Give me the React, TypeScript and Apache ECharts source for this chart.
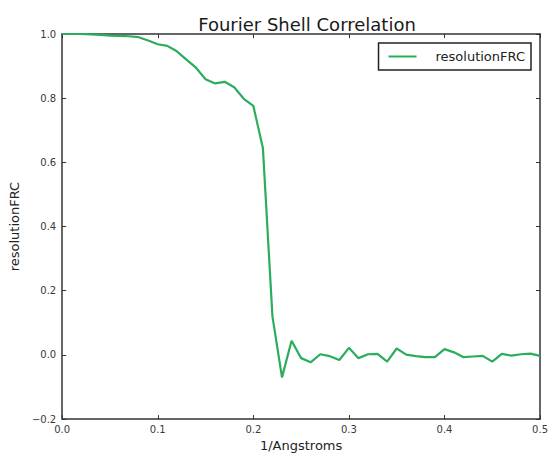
import React, { useEffect, useRef } from "react";
import * as echarts from "echarts";

const frequencies = [
  0.0, 0.01, 0.02, 0.03, 0.04, 0.05, 0.06, 0.07, 0.08, 0.09,
  0.1, 0.11, 0.12, 0.13, 0.14, 0.15, 0.16, 0.17, 0.18, 0.19,
  0.2, 0.21, 0.22, 0.23, 0.24, 0.25, 0.26, 0.27, 0.28, 0.29,
  0.3, 0.31, 0.32, 0.33, 0.34, 0.35, 0.36, 0.37, 0.38, 0.39,
  0.4, 0.41, 0.42, 0.43, 0.44, 0.45, 0.46, 0.47, 0.48, 0.49, 0.5,
];

const resolutionFRC = [
  1.0, 1.0, 1.0, 0.999, 0.997, 0.995, 0.994, 0.993, 0.99, 0.98,
  0.968, 0.963, 0.946, 0.92, 0.895, 0.859, 0.846, 0.851, 0.834, 0.798,
  0.776, 0.645, 0.12, -0.07, 0.044, -0.01, -0.023, 0.002, -0.004, -0.016,
  0.022, -0.01, 0.002, 0.003, -0.021, 0.02, 0.001, -0.004, -0.007, -0.007,
  0.018, 0.008, -0.007, -0.005, -0.003, -0.021, 0.003, -0.002, 0.002, 0.004, -0.003,
];

const xTicks = { min: 0, max: 0.5, interval: 0.1 };
const yTicks = { min: -0.2, max: 1.0, interval: 0.2 };

const FONT = "DejaVu Sans";
const AXIS_COLOR = "#333333";
const LINE_COLOR = "#2aad5c";

function fmt(v: number): string {
  const s = Math.abs(v).toFixed(1);
  return v < -1e-9 ? "\u2212" + s : s;
}

export default function App() {
  const ref = useRef<HTMLDivElement>(null);

  useEffect(() => {
    document.body.style.margin = "0";
    if (!ref.current) return;
    const chart = echarts.init(ref.current, undefined, { renderer: "svg" });

    const axisLine = { show: true, onZero: false, lineStyle: { color: AXIS_COLOR, width: 1.5 } };
    const axisTick = { show: true, inside: true, length: 4, lineStyle: { color: AXIS_COLOR, width: 1 } };

    chart.setOption({
      animation: false,
      backgroundColor: "#ffffff",
      title: {
        text: "Fourier Shell Correlation",
        left: 302,
        textAlign: "center",
        top: 10,
        textStyle: { fontFamily: FONT, fontSize: 18, fontWeight: "normal", color: "#1a1a1a" },
      },
      legend: {
        show: true,
        right: 20,
        top: 43,
        orient: "vertical",
        borderColor: "#222222",
        borderWidth: 1.5,
        borderRadius: 0,
        padding: [7, 6, 7, 10],
        itemWidth: 28,
        itemHeight: 14,
        textStyle: { fontFamily: FONT, fontSize: 13, color: "#222222", padding: [0, 0, 0, 14] },
        data: [{ name: "resolutionFRC", icon: "path://M0,6 L28,6 L28,8 L0,8 Z" }],
      },
      grid: { left: 59, right: 8, top: 34, bottom: 30, containLabel: false },
      xAxis: [
        {
          type: "value",
          min: xTicks.min,
          max: xTicks.max,
          interval: xTicks.interval,
          position: "bottom",
          name: "1/Angstroms",
          nameLocation: "middle",
          nameGap: 17,
          nameTextStyle: { fontFamily: FONT, fontSize: 13, color: "#222222" },
          axisLine,
          axisTick,
          splitLine: { show: false },
          axisLabel: { fontFamily: FONT, fontSize: 10, color: "#3a3a3a", margin: 5, formatter: fmt },
        },
        {
          type: "value",
          min: xTicks.min,
          max: xTicks.max,
          interval: xTicks.interval,
          position: "top",
          axisLine,
          axisTick,
          splitLine: { show: false },
          axisLabel: { show: false },
        },
      ],
      yAxis: [
        {
          type: "value",
          min: yTicks.min,
          max: yTicks.max,
          interval: yTicks.interval,
          position: "left",
          name: "resolutionFRC",
          nameLocation: "middle",
          nameGap: 35,
          nameTextStyle: { fontFamily: FONT, fontSize: 13, color: "#222222" },
          axisLine,
          axisTick,
          splitLine: { show: false },
          axisLabel: { fontFamily: FONT, fontSize: 10, color: "#3a3a3a", margin: 6, formatter: fmt },
        },
        {
          type: "value",
          min: yTicks.min,
          max: yTicks.max,
          interval: yTicks.interval,
          position: "right",
          axisLine,
          axisTick,
          splitLine: { show: false },
          axisLabel: { show: false },
        },
      ],
      series: [
        {
          name: "resolutionFRC",
          type: "line",
          xAxisIndex: 0,
          yAxisIndex: 0,
          showSymbol: false,
          symbol: "none",
          clip: false,
          z: 1,
          lineStyle: { color: LINE_COLOR, width: 2.2 },
          itemStyle: { color: LINE_COLOR },
          data: frequencies.map((f, i) => [f, resolutionFRC[i]]),
        },
      ],
    });

    return () => chart.dispose();
  }, []);

  return <div ref={ref} style={{ width: 551, height: 457 }} />;
}
